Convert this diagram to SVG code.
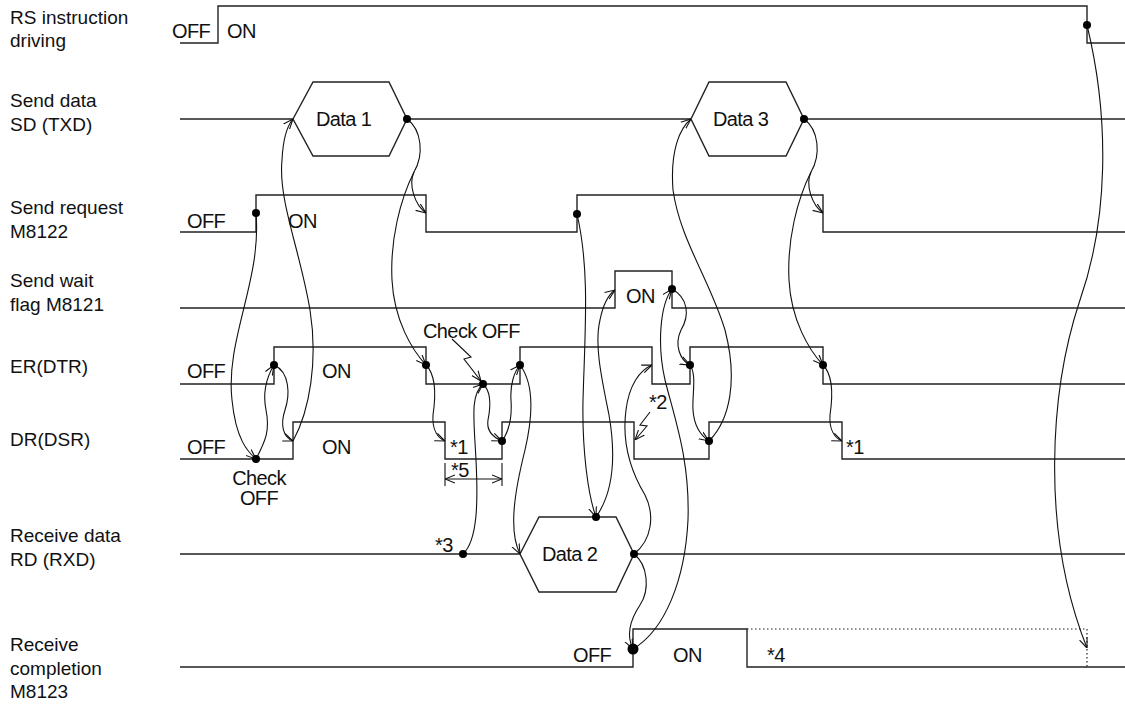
<svg xmlns="http://www.w3.org/2000/svg" width="1125" height="705" viewBox="0 0 1125 705">
<defs>
<style>
text{font-family:"Liberation Sans",Arial,sans-serif;font-size:19px;fill:#111}
.in{font-size:20px;letter-spacing:-0.6px}
.sig{fill:none;stroke:#222;stroke-width:1.4}
.hex{fill:none;stroke:#222;stroke-width:1.4}
.cn{fill:none;stroke:#111;stroke-width:1.1}
.dim{fill:none;stroke:#111;stroke-width:1.1}
.dot{fill:#000}
.dotted{fill:none;stroke:#222;stroke-width:1.2;stroke-dasharray:1.5,2.5}
</style>
<marker id="ah" viewBox="0 0 10 10" refX="10" refY="5" markerWidth="10" markerHeight="10" markerUnits="userSpaceOnUse" orient="auto">
<path d="M0,1 L10,5 L0,9" fill="none" stroke="#111" stroke-width="1.1"/>
</marker>
<marker id="ahs" viewBox="0 0 10 10" refX="10" refY="5" markerWidth="10" markerHeight="10" markerUnits="userSpaceOnUse" orient="auto-start-reverse">
<path d="M0,1 L10,5 L0,9" fill="none" stroke="#111" stroke-width="1.1"/>
</marker>
</defs>
<rect width="1125" height="705" fill="#fff"/>

<g id="labels">
<text x="10" y="24">RS instruction</text>
<text x="10" y="47">driving</text>
<text x="10" y="107">Send data</text>
<text x="10" y="131">SD (TXD)</text>
<text x="10" y="214">Send request</text>
<text x="10" y="238">M8122</text>
<text x="10" y="287">Send wait</text>
<text x="10" y="311">flag M8121</text>
<text x="10" y="373">ER(DTR)</text>
<text x="10" y="446">DR(DSR)</text>
<text x="10" y="542">Receive data</text>
<text x="10" y="566">RD (RXD)</text>
<text x="10" y="651">Receive</text>
<text x="10" y="675">completion</text>
<text x="10" y="698">M8123</text>
</g>

<g id="rs-driving">
<path class="sig" d="M180,43 H218 V6 H1087 V43 H1125"/>
<text class="in" x="172" y="38">OFF</text>
<text class="in" x="227" y="38">ON</text>
</g>

<g id="send-data">
<path class="sig" d="M180,119 H293 M407,119 H691 M804,119 H1125"/>
<g id="data1">
<path class="hex" d="M293,119 L313,82 H389 L407,119 L389,156 H313 Z"/>
<text class="in" x="316" y="126">Data 1</text>
</g>
<g id="data3">
<path class="hex" d="M691,119 L709,82 H786 L804,119 L786,156 H709 Z"/>
<text class="in" x="713" y="126">Data 3</text>
</g>
</g>

<g id="send-request">
<path class="sig" d="M180,232 H256 V195 H426 V232 H577 V195 H823 V232 H1125"/>
<text class="in" x="187" y="228">OFF</text>
<text class="in" x="288" y="228">ON</text>
</g>

<g id="send-wait">
<path class="sig" d="M180,308 H615 V271 H672 V308 H1125"/>
<text class="in" x="626" y="303">ON</text>
</g>

<g id="er-dtr">
<path class="sig" d="M180,384 H274 V347 H426 V384 H520 V347 H652 V384 H690 V347 H823 V384 H1125"/>
<text class="in" x="187" y="378">OFF</text>
<text class="in" x="322" y="378">ON</text>
<text class="in" x="423" y="338">Check OFF</text>
</g>

<g id="dr-dsr">
<path class="sig" d="M180,459 H293 V422 H445 V459 H502 V422 H634 V459 H709 V422 H842 V459 H1125"/>
<text class="in" x="187" y="454">OFF</text>
<text class="in" x="322" y="454">ON</text>
<text class="in" x="259" y="485" text-anchor="middle">Check</text>
<text class="in" x="259" y="505" text-anchor="middle">OFF</text>
<text class="in" x="450" y="454">*1</text>
<text class="in" x="846" y="454">*1</text>
<text class="in" x="649" y="409">*2</text>
<text class="in" x="451" y="477">*5</text>
</g>

<g id="receive-data">
<path class="sig" d="M180,554 H520 M634,554 H1125"/>
<g id="data2">
<path class="hex" d="M520,554 L539,517 H616 L634,554 L616,592 H539 Z"/>
<text class="in" x="542" y="561">Data 2</text>
</g>
<text class="in" x="435" y="552">*3</text>
</g>

<g id="receive-completion">
<path class="sig" d="M180,667 H633 V629 H747 V667 H1125"/>
<path class="dotted" d="M747,629 H1087 V667"/>
<text class="in" x="573" y="662">OFF</text>
<text class="in" x="673" y="662">ON</text>
<text class="in" x="767" y="662">*4</text>
</g>

<g id="connectors">
<path class="cn" marker-end="url(#ah)" d="M256,213 C262,280 225,340 232,400 C236,440 248,452 256,459"/>
<path class="cn" marker-end="url(#ah)" d="M256,459 C266,440 270,430 266,410 C262,390 268,375 274,365"/>
<path class="cn" marker-end="url(#ah)" d="M274,365 C290,372 290,395 285,410 C280,425 283,437 293,441"/>
<path class="cn" marker-end="url(#ah)" d="M293,441 C310,410 318,360 310,310 C300,250 278,200 282,160 C283,140 287,126 293,119"/>
<path class="cn" marker-end="url(#ah)" d="M407,119 C422,130 424,155 414,172 C408,185 415,205 426,213"/>
<path class="cn" marker-end="url(#ah)" d="M414,172 C400,200 390,240 392,280 C394,320 412,350 426,365"/>
<path class="cn" marker-end="url(#ah)" d="M426,365 C436,375 436,395 433,415 C432,430 438,438 445,441"/>
<path class="cn" marker-end="url(#ah)" d="M463,554 C478,540 478,500 476,460 C474,420 470,395 483,384"/>
<path class="cn" marker-end="url(#ah)" d="M483,384 C492,392 490,410 488,420 C486,432 495,438 502,441"/>
<path class="cn" marker-end="url(#ah)" d="M502,441 C510,430 512,415 511,400 C510,385 514,372 520,365"/>
<path class="cn" marker-end="url(#ah)" d="M520,365 C535,385 532,420 525,450 C515,490 508,530 520,554"/>
<path class="cn" marker-end="url(#ah)" d="M577,214 C590,270 585,330 583,400 C582,450 588,495 596,517"/>
<path class="cn" marker-end="url(#ah)" d="M596,517 C615,490 615,450 609,415 C602,380 594,345 600,320 C603,305 608,295 615,290"/>
<path class="cn" marker-end="url(#ah)" d="M634,554 C652,540 655,515 645,495 C630,470 622,440 626,410 C629,385 640,370 652,365"/>
<path class="cn" marker-end="url(#ah)" d="M634,554 C648,565 650,590 640,605 C630,620 626,635 633,649"/>
<path class="cn" marker-end="url(#ah)" d="M633,649 C665,630 685,580 688,520 C690,460 675,420 665,380 C657,345 660,305 672,289"/>
<path class="cn" marker-end="url(#ah)" d="M672,289 C688,298 690,315 681,330 C674,345 680,360 690,365"/>
<path class="cn" marker-end="url(#ah)" d="M690,365 C697,375 692,395 693,410 C694,425 700,435 709,441"/>
<path class="cn" marker-end="url(#ah)" d="M709,441 C730,420 738,380 725,330 C710,280 680,240 673,190 C670,150 680,128 691,119"/>
<path class="cn" marker-end="url(#ah)" d="M804,119 C819,130 821,155 811,172 C805,185 812,205 823,213"/>
<path class="cn" marker-end="url(#ah)" d="M811,172 C797,200 787,240 789,280 C791,320 809,350 823,365"/>
<path class="cn" marker-end="url(#ah)" d="M823,365 C833,375 833,395 830,415 C829,430 835,438 842,441"/>
<path class="cn" marker-end="url(#ah)" d="M1087,25 C1110,120 1108,220 1080,300 C1050,390 1040,530 1087,648"/>
<path class="cn" marker-end="url(#ah)" d="M452,339 L471,357 L464,359 L481,381"/>
<path class="cn" marker-end="url(#ah)" d="M650,412 L640,425 L647,426 L635,440"/>
<path class="dim" d="M445,463 V486 M502,463 V486"/>
<path class="dim" marker-start="url(#ahs)" marker-end="url(#ah)" d="M445,479 H502"/>
</g>

<g id="dots">
<circle class="dot" cx="1087" cy="25" r="4"/>
<circle class="dot" cx="407" cy="119" r="4"/>
<circle class="dot" cx="804" cy="119" r="4"/>
<circle class="dot" cx="256" cy="213" r="4"/>
<circle class="dot" cx="577" cy="214" r="4"/>
<circle class="dot" cx="672" cy="289" r="4"/>
<circle class="dot" cx="274" cy="365" r="4"/>
<circle class="dot" cx="426" cy="365" r="4"/>
<circle class="dot" cx="520" cy="365" r="4"/>
<circle class="dot" cx="690" cy="365" r="4"/>
<circle class="dot" cx="823" cy="365" r="4"/>
<circle class="dot" cx="483" cy="384" r="4"/>
<circle class="dot" cx="256" cy="459" r="4"/>
<circle class="dot" cx="502" cy="441" r="4"/>
<circle class="dot" cx="709" cy="441" r="4"/>
<circle class="dot" cx="463" cy="554" r="4"/>
<circle class="dot" cx="596" cy="517" r="4"/>
<circle class="dot" cx="634" cy="554" r="4"/>
<circle class="dot" cx="633" cy="649" r="5.5"/>
</g>
</svg>
